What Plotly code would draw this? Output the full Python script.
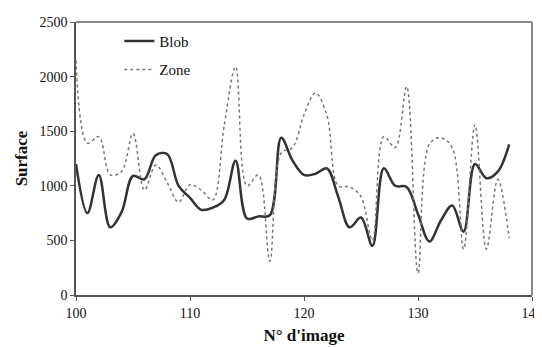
import plotly.graph_objects as go

frames = list(range(100, 139))
blob = [1200, 750, 1100, 620, 760, 1090, 1060, 1280, 1290, 1000, 890,
        780, 800, 870, 1230, 700, 720, 730, 1440, 1230, 1100, 1110, 1160,
        900, 620, 710, 450, 1160, 1000, 990, 740, 490, 680, 820, 580,
        1200, 1070, 1130, 1380]
zone = [2150, 1390, 1450, 1100, 1130, 1480, 960, 1190, 1030, 850, 1010,
        960, 870, 1550, 2090, 1000, 1100, 310, 1300, 1350, 1650, 1850, 1650,
        1000, 990, 900, 500, 1450, 1350, 1910, 200, 1380, 1440, 1350, 420,
        1560, 420, 1060, 520]
x_ticks = [100, 110, 120, 130, 140]
y_ticks = [0, 500, 1000, 1500, 2000, 2500]

font = "Liberation Serif, Times New Roman, serif"
fig = go.Figure()
fig.add_trace(go.Scatter(x=frames, y=blob, name="Blob", mode="lines", legendgroup="a",
                         line=dict(color="#333333", width=2.5, shape="spline", smoothing=1.0)))
fig.add_trace(go.Scatter(x=frames, y=zone, name="Zone", mode="lines", legendgroup="b",
                         line=dict(color="#777777", width=1.5, dash="dot", shape="spline", smoothing=1.0)))

fig.update_layout(
    width=542, height=347,
    margin=dict(l=68, r=18, t=7, b=60),
    paper_bgcolor="white", plot_bgcolor="white",
    font=dict(family=font, size=14, color="#111111"),
    showlegend=True,
    legend=dict(x=0.095, y=0.99, xanchor="left", yanchor="top",
                bgcolor="rgba(0,0,0,0)", font=dict(family=font, size=15, color="#111111"),
                itemwidth=30, tracegroupgap=6, traceorder="grouped"),
    xaxis=dict(range=[100, 140], tickvals=x_ticks, showgrid=False, zeroline=False,
               showline=True, linecolor="#555555", linewidth=1.5,
               ticks="outside", ticklen=4, tickcolor="#555555",
               ticklabeloverflow="allow",
               title=dict(text="<b>N° d'image</b>", font=dict(family=font, size=17), standoff=10)),
    yaxis=dict(range=[0, 2500], tickvals=y_ticks, showgrid=False, zeroline=False,
               showline=True, linecolor="#555555", linewidth=1.5,
               ticks="outside", ticklen=4, tickcolor="#555555",
               ticklabeloverflow="allow",
               title=dict(text="<b>Surface</b>", font=dict(family=font, size=17), standoff=8)),
    shapes=[
        dict(type="line", xref="paper", yref="paper", x0=0, x1=1, y0=1, y1=1,
             layer="above", line=dict(color="#8a8a8a", width=2)),
        dict(type="line", xref="paper", yref="paper", x0=1, x1=1, y0=0, y1=1,
             layer="above", line=dict(color="#8a8a8a", width=2)),
    ],
)

fig.write_html("out.html")
